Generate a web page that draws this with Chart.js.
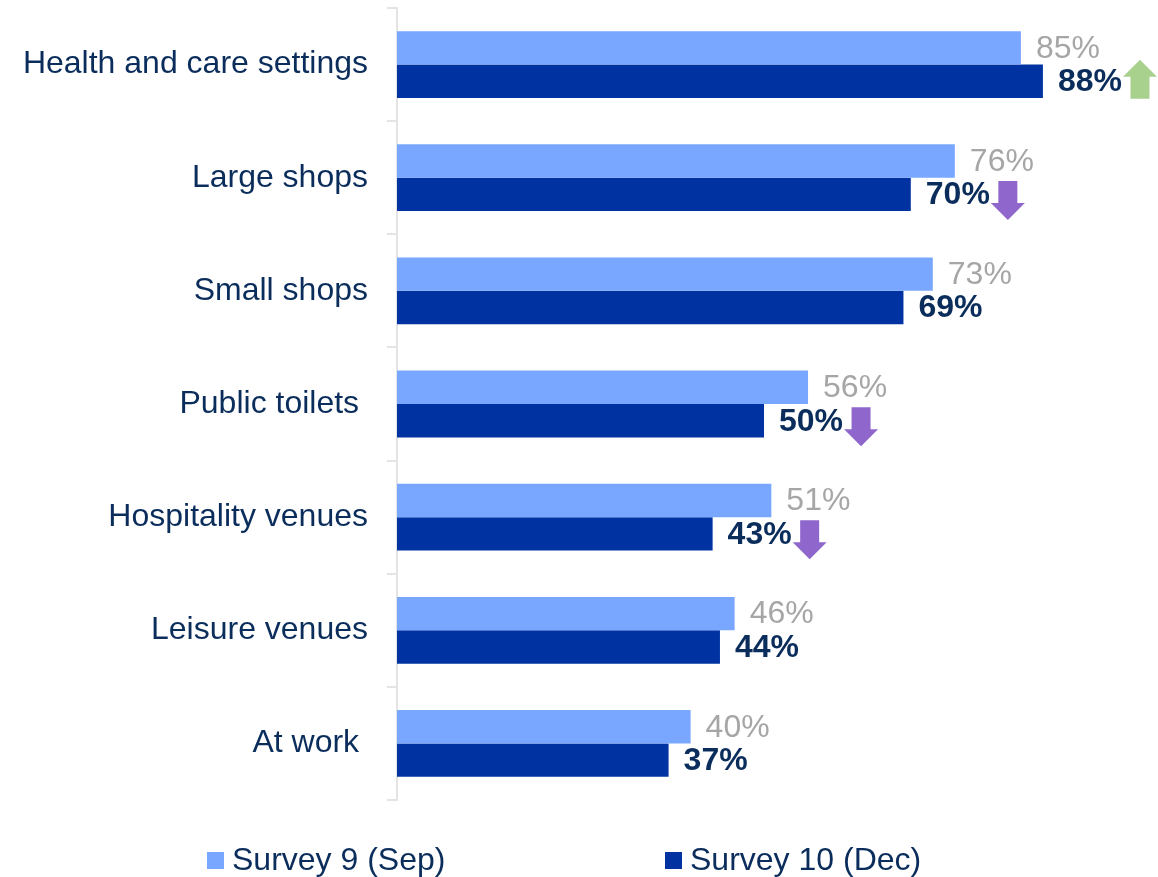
<!DOCTYPE html>
<html>
<head>
<meta charset="utf-8">
<script src="https://cdn.jsdelivr.net/npm/chart.js@4.4.1/dist/chart.umd.min.js"></script>
<style>
  html, body { margin: 0; padding: 0; background: #fff; }
  #wrap { width: 1158px; height: 877px; position: relative; }
</style>
</head>
<body>
<div id="wrap"><canvas id="settingsChart"></canvas></div>
<script>
var categories = ["Health and care settings", "Large shops", "Small shops", "Public toilets ", "Hospitality venues", "Leisure venues", "At work "];
var sepValues = [85, 76, 73, 56, 51, 46, 40];
var decValues = [88, 70, 69, 50, 43, 44, 37];
// significant change between surveys
var changeMarks = ["up", "down", null, "down", "down", null, null];
var seriesNames = ["Survey 9 (Sep)", "Survey 10 (Dec)"];

var FONT = "'Liberation Sans', Arial, sans-serif";
var NAVY = "#0b2d5b";
var LIGHT = "#79a7ff";
var DARK = "#0033a1";

function drawArrow(ctx, x, cy, dir, color) {
  var w = 34, h = 39, shaft = 19, head = 17;
  var mid = x + w / 2;
  var top = cy - h / 2;
  var bot = cy + h / 2;
  ctx.save();
  ctx.fillStyle = color;
  ctx.beginPath();
  if (dir === "up") {
    ctx.moveTo(mid, top);
    ctx.lineTo(x + w, top + head);
    ctx.lineTo(mid + shaft / 2, top + head);
    ctx.lineTo(mid + shaft / 2, bot);
    ctx.lineTo(mid - shaft / 2, bot);
    ctx.lineTo(mid - shaft / 2, top + head);
    ctx.lineTo(x, top + head);
  } else {
    ctx.moveTo(mid, bot);
    ctx.lineTo(x + w, bot - head);
    ctx.lineTo(mid + shaft / 2, bot - head);
    ctx.lineTo(mid + shaft / 2, top);
    ctx.lineTo(mid - shaft / 2, top);
    ctx.lineTo(mid - shaft / 2, bot - head);
    ctx.lineTo(x, bot - head);
  }
  ctx.closePath();
  ctx.fill();
  ctx.restore();
}

var valueLabels = {
  id: "valueLabels",
  afterDatasetsDraw: function (chart) {
    var ctx = chart.ctx;
    ctx.save();
    ctx.textBaseline = "middle";
    ctx.textAlign = "left";
    chart.data.datasets.forEach(function (ds, i) {
      var meta = chart.getDatasetMeta(i);
      meta.data.forEach(function (bar, j) {
        var txt = ds.data[j] + "%";
        var x = bar.x + 15;
        if (i === 0) {
          ctx.font = "32px " + FONT;
          ctx.fillStyle = "#a6a6a6";
        } else {
          ctx.font = "bold 32px " + FONT;
          ctx.fillStyle = NAVY;
        }
        ctx.fillText(txt, x, bar.y + 1);
        if (i === 1 && changeMarks[j]) {
          var tw = ctx.measureText(txt).width;
          var up = changeMarks[j] === "up";
          drawArrow(ctx, x + tw + 1, bar.y + (up ? -2 : 6), changeMarks[j], up ? "#a9d18e" : "#8f67cc");
        }
      });
    });
    ctx.restore();
  }
};

var bottomLegend = {
  id: "bottomLegend",
  afterDraw: function (chart) {
    var ctx = chart.ctx;
    var xs = [207, 665];
    var cy = 860;
    ctx.save();
    ctx.font = "32px " + FONT;
    ctx.textBaseline = "middle";
    ctx.textAlign = "left";
    chart.data.datasets.forEach(function (ds, i) {
      ctx.fillStyle = ds.backgroundColor;
      ctx.fillRect(xs[i], cy - 8, 17, 17);
      ctx.fillStyle = NAVY;
      ctx.fillText(ds.label, xs[i] + 25, cy + 1);
    });
    ctx.restore();
  }
};

document.addEventListener("DOMContentLoaded", function () {
  var ctx = document.getElementById("settingsChart").getContext("2d");
  new Chart(ctx, {
    type: "bar",
    data: {
      labels: categories,
      datasets: [
        { label: seriesNames[0], data: sepValues, backgroundColor: LIGHT },
        { label: seriesNames[1], data: decValues, backgroundColor: DARK }
      ]
    },
    options: {
      indexAxis: "y",
      responsive: true,
      maintainAspectRatio: false,
      animation: false,
      datasets: {
        bar: { categoryPercentage: 0.59, barPercentage: 1.0 }
      },
      layout: { padding: { top: 8, right: 27, bottom: 77, left: 0 } },
      plugins: {
        legend: { display: false },
        tooltip: { enabled: false }
      },
      scales: {
        x: { display: false, min: 0, max: 100 },
        y: {
          grid: {
            drawOnChartArea: false,
            drawTicks: true,
            tickLength: 10,
            color: "#e4e4e4",
            lineWidth: 2
          },
          border: { display: true, color: "#e4e4e4", width: 2 },
          ticks: {
            padding: 19,
            color: NAVY,
            font: { family: FONT, size: 32 }
          },
          afterFit: function (scale) {
            scale.width = 397;
            scale.paddingTop = 0;
            scale.paddingBottom = 0;
          }
        }
      }
    },
    plugins: [valueLabels, bottomLegend]
  });
});
</script>
</body>
</html>
